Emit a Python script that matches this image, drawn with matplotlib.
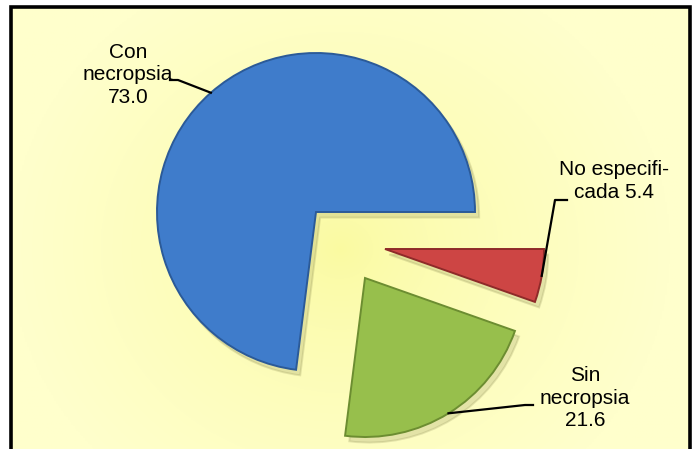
import numpy as np
import matplotlib.pyplot as plt
from matplotlib.patches import Shadow

plt.rcParams['font.family'] = ['Liberation Sans', 'DejaVu Sans']

# data
categories = ['Con\nnecropsia', 'Sin\nnecropsia', 'No especifi-\ncada']
values = [73.0, 21.6, 5.4]
value_labels = ['73.0', '21.6', '5.4']
colors = ['#3f7ccb', '#97bf4c', '#cd4544']
edges = ['#2b5a98', '#6c8d31', '#8e2a29']

W, H = 693, 449
fig = plt.figure(figsize=(W / 100, H / 100), dpi=100)
ax = fig.add_axes([0, 0, 1, 1])

# background: pale yellow radial glow inside a black frame
x0, x1, y0, y1 = 11, 690, 0, H - 7
gx, gy = np.meshgrid(np.linspace(x0, x1, 400), np.linspace(y0, y1, 300))
r = np.sqrt((gx - 340) ** 2 + ((gy - 200) * 1.1) ** 2) / 330
r = np.clip(r, 0, 1)
c_in = np.array([250, 250, 160]) / 255
c_out = np.array([255, 255, 204]) / 255
img = c_in + (c_out - c_in) * r[..., None] ** 0.7
ax.imshow(img, extent=[x0, x1, y0, y1], origin='lower', aspect='auto', zorder=0)
ax.plot([x0, x0, x1, x1], [0, y1, y1, 0], color='black', lw=2.6,
        solid_joinstyle='miter', zorder=5)

# pie
center = (316, 237)
radius = 159
offsets = [(0, 0), (49, -66), (69, -37)]
wedges, _ = ax.pie(values, colors=colors, startangle=0, counterclock=True,
                   radius=radius, center=center, frame=True,
                   wedgeprops=dict(linewidth=1.4))
ax.set_xlim(0, W)
ax.set_ylim(0, H)
ax.axis('off')
for w, off, ec in zip(wedges, offsets, edges):
    w.set_center((center[0] + off[0], center[1] + off[1]))
    w.set_edgecolor(ec)
    w.set_zorder(3)
    sh = Shadow(w, 3, -4, alpha=0.22, color='#8a8a50')
    sh.set_zorder(2)
    ax.add_patch(sh)

# labels with leader lines
text_pos = [(128, 374), (585, 51), (614, 268)]
elbows = [[(178, 369), (170, 369)], [(525, 44), (533, 44)], [(555, 249), (567, 249)]]
for w, cat, val, tp, elb in zip(wedges, categories, value_labels, text_pos, elbows):
    mid = np.deg2rad((w.theta1 + w.theta2) / 2)
    cx, cy = w.center
    px, py = cx + radius * np.cos(mid), cy + radius * np.sin(mid)
    xs = [px] + [e[0] for e in elb]
    ys = [py] + [e[1] for e in elb]
    ax.plot(xs, ys, color='black', lw=1.6, zorder=4)
    if 'cada' in cat:
        txt = cat + ' ' + val
    else:
        txt = cat + '\n' + val
    ax.text(tp[0], tp[1], txt, ha='center', va='center', fontsize=15,
            linespacing=1.22, zorder=4)

fig.savefig('out.png', dpi=100)
